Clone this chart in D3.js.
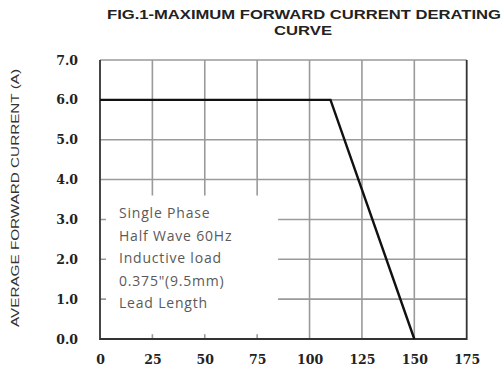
<!DOCTYPE html>
<html>
<head>
<meta charset="utf-8">
<script src="https://cdn.jsdelivr.net/npm/d3@7/dist/d3.min.js"></script>
<style>
  html, body { margin: 0; padding: 0; background: #fff; }
  svg { display: block; }
</style>
</head>
<body>
<div id="chart"></div>
<script>
// valores
const xTicks = [0, 25, 50, 75, 100, 125, 150, 175];
const yTicks = [0, 1, 2, 3, 4, 5, 6, 7];
const curveTemp = [0, 110, 150];      // temperatura (C)
const curveCurrent = [6.0, 6.0, 0.0]; // corrente media (A)
const noteLines = ['Single Phase', 'Half Wave 60Hz', 'Inductive load', '0.375"(9.5mm)', 'Lead Length'];
const titleLines = ['FIG.1-MAXIMUM FORWARD CURRENT DERATING', 'CURVE'];
const yLabel = 'AVERAGE FORWARD CURRENT (A)';

const W = 503, H = 372;
const M = { left: 100, right: 503 - 466.7, top: 60, bottom: 372 - 339 };

const svg = d3.select('#chart').append('svg').attr('width', W).attr('height', H);

const x = d3.scaleLinear().domain([0, 175]).range([M.left, W - M.right]);
const y = d3.scaleLinear().domain([0, 7]).range([H - M.bottom, M.top]);

// grade
const grid = svg.append('g').attr('stroke', '#9a9a9a').attr('stroke-width', 1.6);
grid.selectAll('line.v').data(xTicks.slice(1, -1)).enter().append('line')
  .attr('x1', (d) => x(d)).attr('x2', (d) => x(d))
  .attr('y1', y(0)).attr('y2', y(7));
grid.selectAll('line.h').data(yTicks.slice(1)).enter().append('line')
  .attr('x1', x(0)).attr('x2', x(175))
  .attr('y1', (d) => y(d)).attr('y2', (d) => y(d));

// caixa branca da nota (cobre parte da grade)
svg.append('rect')
  .attr('x', x(0) + 6).attr('y', y(3.6))
  .attr('width', x(85) - x(0) - 6).attr('height', y(0.12) - y(3.6))
  .attr('fill', '#fff');

// moldura escura: esquerda, baixo, direita
const frame = svg.append('g').attr('stroke', '#333').attr('stroke-width', 1.8).attr('fill', 'none');
frame.append('path').attr('d', `M${x(0)},${y(7)}V${y(0)}H${x(175)}V${y(7)}`);

// curva
const pts = curveTemp.map((t, i) => [t, curveCurrent[i]]);
svg.append('path').datum(pts)
  .attr('d', d3.line().x((d) => x(d[0])).y((d) => y(d[1])))
  .attr('fill', 'none').attr('stroke', '#111').attr('stroke-width', 2.4)
  .attr('stroke-linejoin', 'miter');

// eixos (so labels)
const yAxis = svg.append('g').attr('transform', `translate(${x(0) - 19},0)`)
  .call(d3.axisLeft(y).tickValues(yTicks).tickFormat(d3.format('.1f')).tickSize(0));
yAxis.select('.domain').remove();
yAxis.selectAll('text')
  .attr('font-family', '"DejaVu Serif", serif').attr('font-weight', 'bold')
  .attr('font-size', 12.5).attr('fill', '#222');

const xAxis = svg.append('g').attr('transform', `translate(0,${y(0) + 13})`)
  .call(d3.axisBottom(x).tickValues(xTicks).tickSize(0));
xAxis.select('.domain').remove();
xAxis.selectAll('text')
  .attr('font-family', '"DejaVu Serif", serif').attr('font-weight', 'bold')
  .attr('font-size', 12.5).attr('fill', '#222');

// titulo
const titleFont = (sel) => sel
  .attr('text-anchor', 'middle')
  .attr('font-family', '"Liberation Sans", Arial, sans-serif').attr('font-weight', 'bold')
  .attr('font-size', 12.5).attr('fill', '#222')
  .attr('lengthAdjust', 'spacingAndGlyphs');
svg.append('text').attr('x', 304).attr('y', 19).call(titleFont)
  .attr('textLength', 394).text(titleLines[0]);
svg.append('text').attr('x', 303).attr('y', 35).call(titleFont)
  .attr('textLength', 58).text(titleLines[1]);

// rotulo do eixo Y
svg.append('text')
  .attr('transform', `translate(19,198) rotate(-90)`)
  .attr('text-anchor', 'middle')
  .attr('font-family', '"Liberation Sans", Arial, sans-serif')
  .attr('font-size', 11).attr('fill', '#333')
  .attr('textLength', 258).attr('lengthAdjust', 'spacingAndGlyphs')
  .text(yLabel);

// nota
svg.append('g').selectAll('text').data(noteLines).enter().append('text')
  .attr('x', 119).attr('y', (d, i) => 218 + i * 22.5)
  .attr('font-family', '"Open Sans", sans-serif')
  .attr('font-size', 14).attr('letter-spacing', 0.8).attr('fill', '#5a5a5a')
  .text((d) => d);
</script>
</body>
</html>
